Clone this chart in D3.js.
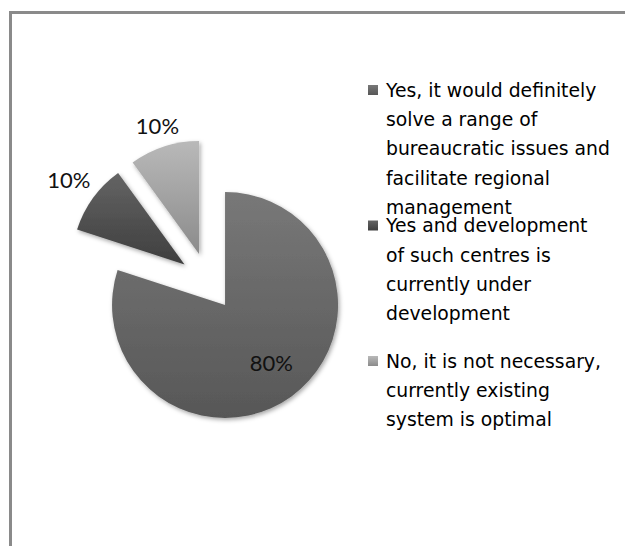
<!DOCTYPE html>
<html>
<head>
<meta charset="utf-8">
<script src="https://cdn.jsdelivr.net/npm/d3@7"></script>
<style>
  html, body { margin: 0; padding: 0; background: #fff; }
  svg { display: block; }
</style>
</head>
<body>
<svg id="chart" width="625" height="546"></svg>
<script>
// Survey answers and their shares
const categories = [
  "Yes, it would definitely solve a range of bureaucratic issues and facilitate regional management",
  "Yes and development of such centres is currently under development",
  "No, it is not necessary, currently existing system is optimal"
];
const legendLines = [
  ["Yes, it would definitely", "solve a range of", "bureaucratic issues and", "facilitate regional", "management"],
  ["Yes and development", "of such centres is", "currently under", "development"],
  ["No, it is not necessary,", "currently existing", "system is optimal"]
];
const values = [80, 10, 10];
const valueLabels = ["80%", "10%", "10%"];

// Fill gradients (top, bottom) for each slice
const palette = [["#787878", "#575757"], ["#646464", "#3e3e3e"], ["#b9b9b9", "#8b8b8b"]];

const W = 625, H = 546;
const svg = d3.select("#chart");
const defs = svg.append("defs");

palette.forEach((c, i) => {
  const g = defs.append("linearGradient").attr("id", "grad" + i)
    .attr("x1", 0).attr("y1", 0).attr("x2", 0).attr("y2", 1);
  g.append("stop").attr("offset", "0%").attr("stop-color", c[0]);
  g.append("stop").attr("offset", "100%").attr("stop-color", c[1]);
});

const f = defs.append("filter").attr("id", "shadow")
  .attr("x", "-20%").attr("y", "-20%").attr("width", "140%").attr("height", "140%");
f.append("feDropShadow").attr("dx", 1.5).attr("dy", 2).attr("stdDeviation", 2)
  .attr("flood-color", "#000").attr("flood-opacity", 0.35);

// Chart frame (left and top edges visible)
svg.append("path")
  .attr("d", `M10.5,${H} V12.5 H${W}`)
  .attr("fill", "none").attr("stroke", "#8a8a8a").attr("stroke-width", 3);

// Pie
const cx = 208, cy = 281.5, R = 113, explode = 29;
const pie = d3.pie().sort(null).value(d => d);
const arcs = pie(values);
const arc = d3.arc().innerRadius(0).outerRadius(R);
const mid = d => (d.startAngle + d.endAngle) / 2;
const off = (d, r) => [Math.sin(mid(d)) * r, -Math.cos(mid(d)) * r];

const pg = svg.append("g").attr("transform", `translate(${cx},${cy})`);

pg.selectAll("path.slice").data(arcs).enter().append("path")
  .attr("class", "slice")
  .attr("transform", d => `translate(${off(d, explode)})`)
  .attr("d", arc)
  .attr("fill", (d, i) => `url(#grad${i})`)
  .attr("filter", "url(#shadow)");

// Value labels: the big slice inside, the small ones just outside the rim
const labelFont = "Lato, 'Liberation Sans', sans-serif";
const labels = pg.selectAll("text.val").data(arcs).enter().append("text")
  .attr("class", "val")
  .attr("font-family", labelFont)
  .attr("font-size", 22)
  .attr("fill", "#111")
  .attr("text-anchor", "middle")
  .attr("dy", "0.36em")
  .text((d, i) => valueLabels[i]);

labels.each(function(d) {
  const a = mid(d);
  const ux = Math.sin(a), uy = -Math.cos(a);
  const [ox, oy] = off(d, explode);
  let dist;
  if (d.value >= 50) {
    dist = 72;
  } else {
    const w = this.getComputedTextLength() / 2, h = 13;
    const edge = Math.min(Math.abs(ux) > 1e-6 ? w / Math.abs(ux) : Infinity,
                          Math.abs(uy) > 1e-6 ? h / Math.abs(uy) : Infinity);
    dist = R + 8 + edge;
  }
  d3.select(this).attr("x", ox + ux * dist + (d.value >= 50 ? 4 : 0)).attr("y", oy + uy * dist);
});

// Legend
const legendX = 368, legendTop = 90, itemStep = 135.5, lineH = 29.3;
const lg = svg.append("g");
const items = lg.selectAll("g.item").data(categories).enter().append("g")
  .attr("class", "item")
  .attr("transform", (d, i) => `translate(${legendX},${legendTop + i * itemStep})`);

items.append("rect")
  .attr("x", 0).attr("y", -5).attr("width", 10).attr("height", 10)
  .attr("fill", (d, i) => `url(#grad${i})`);

items.each(function(d, i) {
  const t = d3.select(this).append("text")
    .attr("font-family", "'DejaVu Sans', sans-serif")
    .attr("font-size", 18.8)
    .attr("fill", "#000");
  legendLines[i].forEach((line, k) => {
    t.append("tspan").attr("x", 18).attr("y", k * lineH).attr("dy", "0.36em").text(line);
  });
});
</script>
</body>
</html>
